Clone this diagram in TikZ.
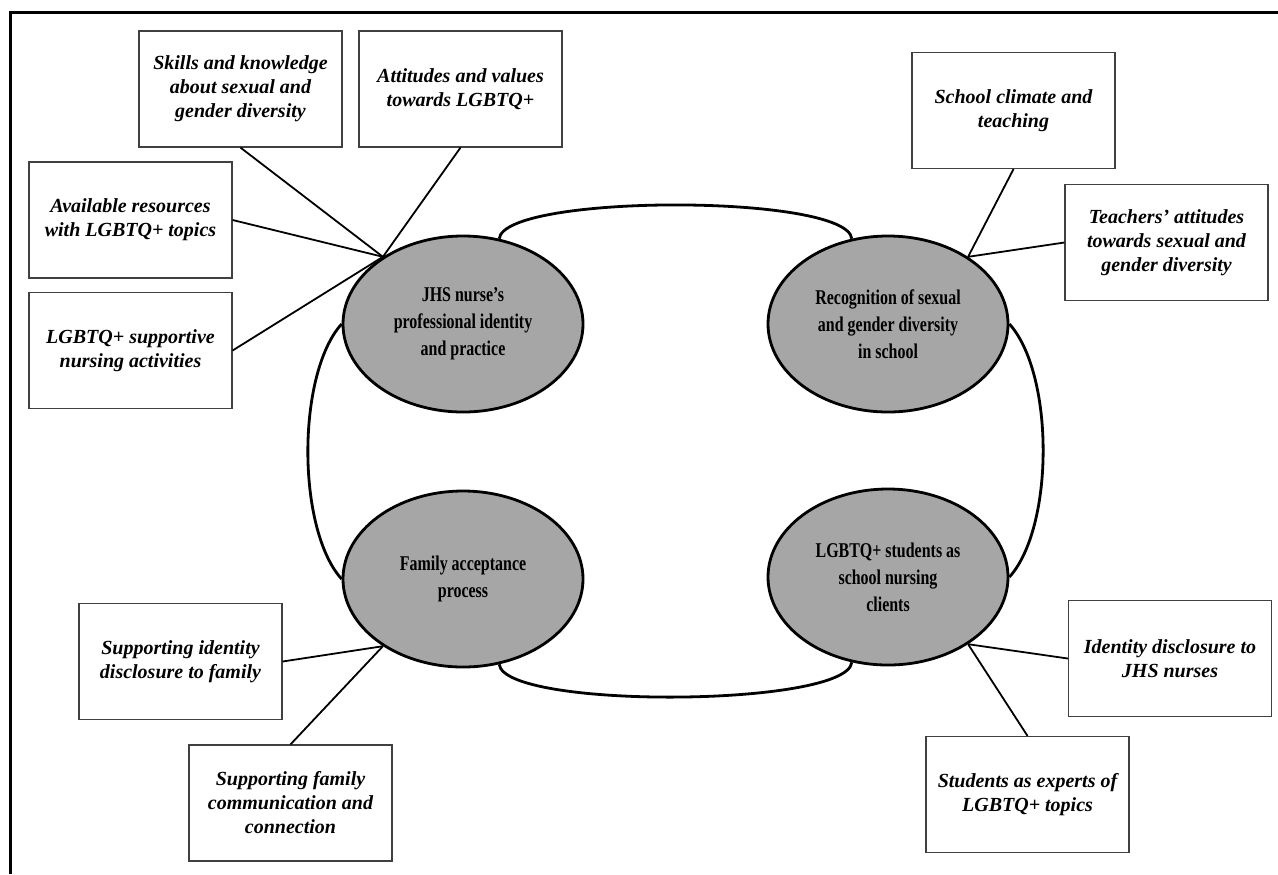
\documentclass[tikz,border=0pt]{standalone}
\usepackage{fontspec}
\setmainfont{Liberation Serif}
\newfontfamily\ellfont[FakeStretch=0.76]{Liberation Serif}
\usetikzlibrary{shapes.geometric}
\definecolor{themegray}{gray}{0.65}
\tikzset{every picture/.style={x=0.5pt,y=-0.5pt}}
\tikzset{theme/.style={ellipse,draw,line width=1.4pt,fill=themegray,minimum width=120pt,minimum height=88pt,inner sep=1pt,align=center,font=\ellfont\bfseries\fontsize{10.5}{13.5}\selectfont}}
\tikzset{subtheme/.style={rectangle,draw=black!75,line width=0.6pt,minimum width=101.5pt,minimum height=58pt,inner sep=2pt,align=center,font=\bfseries\itshape\fontsize{10}{12}\selectfont}}
\tikzset{spoke/.style={line width=0.9pt}}
\tikzset{link/.style={line width=1.4pt}}

\begin{document}
\begin{tikzpicture}

          \useasboundingbox (0,0) rectangle (1278,874);
          \draw[line width=1.5pt] (1278,12) -- (10,12) -- (10,874);

          \node[theme] (jhs) at (463,324){JHS nurse’s\\professional identity\\and practice};
          \node[theme] (rec) at (888,324){Recognition of sexual\\and gender diversity\\in school};
          \node[theme] (fam) at (463,579){Family acceptance\\process};
          \node[theme] (lgb) at (888,577){LGBTQ+ students as\\school nursing\\clients};

          \node[subtheme] (skills) at (240.5,89){Skills and knowledge\\about sexual and\\gender diversity};
          \node[subtheme] (attit) at (460.5,89){Attitudes and values\\towards LGBTQ+};
          \node[subtheme] (avail) at (130.5,220){Available resources\\with LGBTQ+ topics};
          \node[subtheme] (suppact) at (130.5,350.5){LGBTQ+ supportive\\nursing activities};
          \node[subtheme] (climate) at (1013.5,110.5){School climate and\\teaching};
          \node[subtheme] (teach) at (1166.5,242.5){Teachers’ attitudes\\towards sexual and\\gender diversity};
          \node[subtheme] (suppid) at (180.5,661.5){Supporting identity\\disclosure to family};
          \node[subtheme] (suppfam) at (290.5,803){Supporting family\\communication and\\connection};
          \node[subtheme] (disc) at (1170,658.5){Identity disclosure to\\JHS nurses};
          \node[subtheme] (expert) at (1027.5,794.5){Students as experts of\\LGBTQ+ topics};

          \draw[link](jhs.67) .. controls +(5,-45) and +(-5,-45) .. (rec.113);
          \draw[link](jhs.west) .. controls +(-45,50) and +(-45,-50) .. (fam.west);
          \draw[link](rec.east) .. controls +(45,50) and +(45,-50) .. (lgb.east);
          \draw[link](fam.-67) .. controls +(5,45) and +(-5,45) .. (lgb.-113);

          \draw[spoke](skills.south)--(jhs.140);
          \draw[spoke](attit.south)--(jhs.140);
          \draw[spoke](avail.east)--(jhs.140);
          \draw[spoke](suppact.east)--(jhs.140);
          \draw[spoke](climate.south)--(rec.40);
          \draw[spoke](teach.west)--(rec.40);
          \draw[spoke](suppid.east)--(fam.-140);
          \draw[spoke](suppfam.north)--(fam.-140);
          \draw[spoke](disc.west)--(lgb.-40);
          \draw[spoke](expert.north)--(lgb.-40);

        \end{tikzpicture}
\end{document}
